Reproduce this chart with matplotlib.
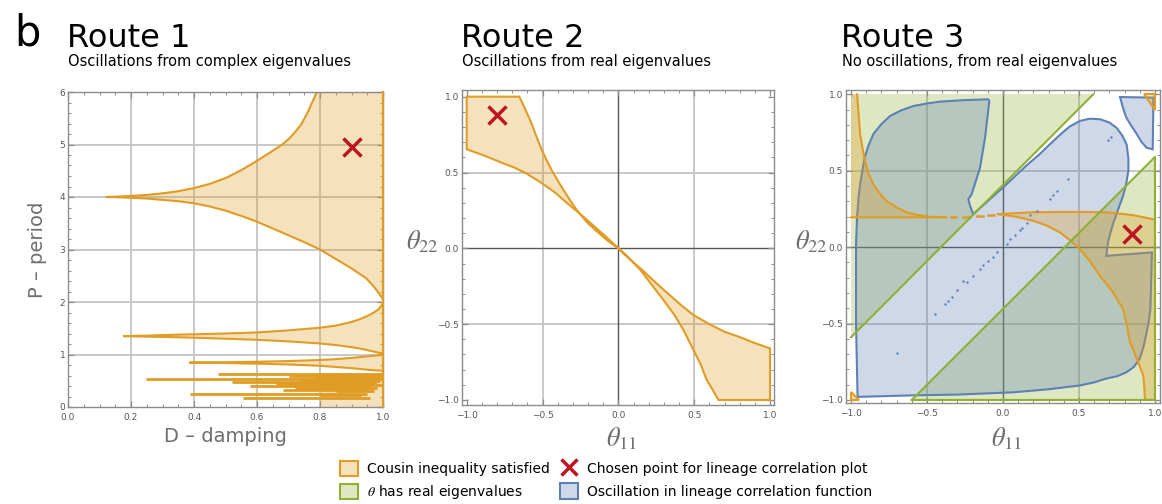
#!/usr/bin/env python3


import matplotlib
matplotlib.use("Agg")
import matplotlib.pyplot as plt
from matplotlib.colors import to_rgba
from matplotlib.lines import Line2D
from matplotlib.patches import Patch
from matplotlib.ticker import MultipleLocator, FuncFormatter


ORANGE = '#e09c24'
GREEN = '#8fb032'
BLUE = '#5e81b5'
RED = '#bc1420'
GRID = '#c4c4c4'
FRAME = '#8c8c8c'
LABEL = '#6e6e6e'

# Route 1 -- Cousin inequality region in (D, P)
lobe1_D = [0.12, 0.15, 0.2, 0.25, 0.3, 0.35, 0.4, 0.45, 0.5, 0.55, 0.6,
           0.65, 0.68, 0.7, 0.72, 0.74, 0.76, 0.775, 0.79, 1.0,
           1.0, 0.99, 0.97, 0.947, 0.9, 0.85, 0.8, 0.75, 0.7, 0.65, 0.6,
           0.55, 0.5, 0.45, 0.4, 0.35, 0.3, 0.25, 0.2, 0.15]
lobe1_P = [4.0, 4.005, 4.02, 4.04, 4.07, 4.11, 4.17, 4.25, 4.36, 4.51, 4.69,
           4.88, 5.0, 5.1, 5.23, 5.38, 5.6, 5.8, 6.0, 6.0,
           2.05, 2.14, 2.30, 2.45, 2.64, 2.82, 3.0, 3.14, 3.27, 3.40, 3.53,
           3.64, 3.74, 3.82, 3.88, 3.92, 3.945, 3.97, 3.985, 3.997]
lobe2_D = [0.175, 0.25, 0.3, 0.4, 0.5, 0.6, 0.7, 0.8, 0.85, 0.9, 0.93,
           0.96, 0.986, 0.995, 1.0,
           1.0, 0.986, 0.96, 0.93, 0.9, 0.85, 0.8, 0.7, 0.6, 0.5, 0.4,
           0.3, 0.25]
lobe2_P = [1.35, 1.36, 1.37, 1.385, 1.40, 1.42, 1.46, 1.51, 1.55, 1.62, 1.68,
           1.76, 1.86, 1.93, 2.0,
           1.02, 1.035, 1.07, 1.11, 1.14, 1.18, 1.21, 1.25, 1.28, 1.30, 1.32,
           1.335, 1.34]
lobe3_D = [0.385, 0.5, 0.6, 0.7, 0.8, 0.85, 0.9, 0.96, 0.985, 1.0,
           1.0, 0.985, 0.96, 0.9, 0.8, 0.7, 0.6, 0.5]
lobe3_P = [0.845, 0.853, 0.862, 0.875, 0.895, 0.912, 0.935, 0.97, 0.985, 1.0,
           0.69, 0.695, 0.705, 0.74, 0.785, 0.81, 0.825, 0.837]
strip_D = [0.8, 1.0, 1.0, 0.8]
strip_P = [0.0, 0.0, 0.64, 0.64]
spike_P = [0.635, 0.60, 0.565, 0.527, 0.50, 0.47, 0.44, 0.42,
           0.394, 0.36, 0.33, 0.30, 0.254, 0.22, 0.17]
spike_D0 = [0.476, 0.70, 0.78, 0.247, 0.74, 0.522, 0.66, 0.80,
            0.577, 0.72, 0.683, 0.85, 0.386, 0.80, 0.556]
spike_D1 = [1.0, 1.0, 1.0, 1.0, 0.99, 0.98, 0.97, 1.0,
            0.96, 0.98, 0.95, 0.97, 0.95, 0.93, 0.96]
chosen1 = (0.9, 4.95)

# Route 2 -- Cousin inequality region in (theta11, theta22)
r2_ul_x = [-1.0, -0.653, -0.62, -0.582, -0.545, -0.505, -0.47, -0.44,
           -0.39, -0.34, -0.28, -0.21, -0.14, -0.07, 0.0,
           -0.08, -0.165, -0.25, -0.34, -0.42, -0.505, -0.6, -0.68,
           -0.758, -0.88, -1.0]
r2_ul_y = [1.0, 1.0, 0.93, 0.846, 0.75, 0.648, 0.575, 0.516,
           0.43, 0.35, 0.26, 0.175, 0.11, 0.05, 0.0,
           0.075, 0.15, 0.225, 0.30, 0.37, 0.43, 0.49, 0.53,
           0.56, 0.61, 0.653]
r2_lr_x = [1.0, 0.66, 0.62, 0.582, 0.545, 0.495, 0.46, 0.43, 0.37, 0.297,
           0.22, 0.143, 0.07, 0.0,
           0.08, 0.165, 0.25, 0.34, 0.42, 0.495, 0.6, 0.7, 0.8, 0.9, 1.0]
r2_lr_y = [-1.0, -1.0, -0.93, -0.868, -0.77, -0.67, -0.60, -0.54, -0.44, -0.34,
           -0.24, -0.14, -0.065, 0.0,
           -0.075, -0.15, -0.23, -0.31, -0.38, -0.44, -0.50, -0.55, -0.585,
           -0.625, -0.66]
chosen2 = (-0.8, 0.88)

# Route 3 -- real eigenvalues, oscillation and Cousin regions
green_ul_x = [-1.0, -1.0, 0.594]
green_ul_y = [-0.59, 1.0, 1.0]
green_lr_x = [-0.6, 1.0, 1.0]
green_lr_y = [-1.0, -1.0, 0.59]
blob_x = [-0.957, -0.967, -0.967, -0.96, -0.95, -0.94, -0.925, -0.91,
          -0.885, -0.853, -0.80, -0.743, -0.67, -0.59, -0.5, -0.414, -0.25,
          -0.097, -0.09, -0.118, -0.151, -0.206, -0.228, -0.217, -0.196,
          0.0, 0.15, 0.243, 0.3, 0.375, 0.44, 0.507, 0.57, 0.638, 0.70,
          0.748, 0.785, 0.814, 0.825, 0.825, 0.81, 0.79, 0.755, 0.72, 0.69,
          0.68, 0.98, 0.97, 0.96, 0.945, 0.925, 0.90, 0.86, 0.81, 0.75, 0.68,
          0.6, 0.507, 0.3, 0.068, -0.3, -0.59]
blob_y = [-0.98, -0.5, 0.02, 0.2, 0.33, 0.41, 0.5, 0.586,
          0.665, 0.74, 0.805, 0.858, 0.895, 0.923, 0.94, 0.952, 0.962,
          0.967, 0.955, 0.717, 0.52, 0.346, 0.314, 0.27, 0.216,
          0.39, 0.53, 0.61, 0.665, 0.735, 0.79, 0.826, 0.84, 0.837, 0.815,
          0.78, 0.73, 0.67, 0.58, 0.5, 0.41, 0.335, 0.24, 0.14, 0.03,
          -0.057, -0.035, -0.4, -0.48, -0.558, -0.65, -0.73, -0.785, -0.82,
          -0.845, -0.86, -0.885, -0.905, -0.93, -0.95, -0.965, -0.97]
corner_x = [0.77, 0.99, 0.985, 0.945, 0.91, 0.88, 0.84, 0.81, 0.79]
corner_y = [0.982, 0.978, 0.64, 0.65, 0.69, 0.74, 0.80, 0.85, 0.91]
dots_x = [-0.70, -0.447, -0.38, -0.36, -0.338, -0.30, -0.26, -0.24, -0.20,
          -0.151, -0.13, -0.10, -0.064, -0.04, 0.024, 0.046, 0.08, 0.112,
          0.123, 0.156, 0.178, 0.222, 0.31, 0.33, 0.353, 0.43, 0.69, 0.71]
dots_y = [-0.69, -0.436, -0.37, -0.35, -0.327, -0.28, -0.22, -0.23, -0.19,
          -0.144, -0.12, -0.09, -0.065, -0.035, 0.022, 0.052, 0.08, 0.109,
          0.128, 0.161, 0.207, 0.237, 0.314, 0.338, 0.368, 0.447, 0.70, 0.72]
c_ul_x = [-1.0, -0.96, -0.95, -0.94, -0.925, -0.908, -0.885, -0.853, -0.81,
          -0.765, -0.70, -0.633, -0.56, -0.48, -0.37, -1.0]
c_ul_y = [1.0, 1.0, 0.87, 0.74, 0.65, 0.564, 0.48, 0.41, 0.35,
          0.30, 0.26, 0.227, 0.21, 0.198, 0.195, 0.195]
c_dash_x0 = [-0.34, -0.26, -0.17, -0.10]
c_dash_x1 = [-0.31, -0.22, -0.13, -0.06]
c_dash_y = [0.198, 0.200, 0.205, 0.210]
c_lr_x = [-0.04, 0.2, 0.375, 0.55, 0.70, 0.85, 1.0, 1.0, 0.934, 0.93,
          0.923, 0.88, 0.835, 0.815, 0.79, 0.72, 0.638, 0.57, 0.507,
          0.44, 0.375, 0.29, 0.2, 0.08]
c_lr_y = [0.216, 0.228, 0.23, 0.23, 0.227, 0.21, 0.18, -1.0, -1.0, -0.92,
          -0.84, -0.73, -0.62, -0.51, -0.405, -0.29, -0.188, -0.09, -0.013,
          0.045, 0.096, 0.14, 0.172, 0.2]
c_tr_x = [0.93, 1.0, 1.0]
c_tr_y = [1.0, 1.0, 0.9]
c_bl_x = [-1.0, -1.0, -0.95]
c_bl_y = [-0.95, -1.0, -1.0]
chosen3 = (0.847, 0.085)


def fmt(v, pos):
    return ('%.1f' % v).replace('-', '\u2212')


def style(ax, major, minor):
    for s in ax.spines.values():
        s.set_color(FRAME)
        s.set_linewidth(1.0)
    ax.xaxis.set_major_locator(MultipleLocator(major[0]))
    ax.yaxis.set_major_locator(MultipleLocator(major[1]))
    ax.xaxis.set_minor_locator(MultipleLocator(minor[0]))
    ax.yaxis.set_minor_locator(MultipleLocator(minor[1]))
    ax.tick_params(which='both', direction='in', top=True, right=True,
                   color=FRAME, labelcolor='#555555', labelsize=6.5, pad=2)
    ax.tick_params(axis='x', which='both', pad=4)
    ax.tick_params(which='major', length=4, width=0.9)
    ax.tick_params(which='minor', length=2, width=0.7)


def fill(ax, x, y, color, edge=True):
    ax.fill(x, y, facecolor=to_rgba(color, 0.3),
            edgecolor=color if edge else 'none', lw=1.5, zorder=2)


def route1(ax):
    for v in [0.2, 0.4, 0.6, 0.8]:
        ax.axvline(v, color=GRID, lw=1.3, zorder=0)
    for v in [1, 2, 3, 4, 5]:
        ax.axhline(v, color=GRID, lw=1.3, zorder=0)
    fill(ax, strip_D, strip_P, ORANGE, edge=False)
    fill(ax, lobe1_D, lobe1_P, ORANGE)
    fill(ax, lobe2_D, lobe2_P, ORANGE)
    fill(ax, lobe3_D, lobe3_P, ORANGE)
    for p, d0, d1 in zip(spike_P, spike_D0, spike_D1):
        ax.plot([d0, d1], [p, p], color=ORANGE, lw=2.0,
                solid_capstyle='butt', zorder=3)
    ax.plot([1, 1], [0, 6], color=ORANGE, lw=1.5, zorder=3, clip_on=False)
    ax.plot(*chosen1, marker='x', color=RED, ms=13, mew=2.5, zorder=5)
    ax.set_xlim(0, 1)
    ax.set_ylim(0, 6)
    style(ax, (0.2, 1), (0.05, 0.2))
    ax.xaxis.set_major_formatter(FuncFormatter(fmt))
    ax.yaxis.set_major_formatter(FuncFormatter(lambda v, p: '%d' % v))
    ax.set_xlabel('D \u2013 damping', fontsize=14, color=LABEL, labelpad=4)
    ax.set_ylabel('P \u2013 period', fontsize=14, color=LABEL, labelpad=9)


def theta_axes(ax, xlim, ylim):
    for v in [-0.5, 0.5]:
        ax.axvline(v, color=GRID, lw=1.3, zorder=0)
        ax.axhline(v, color=GRID, lw=1.3, zorder=0)
    ax.axvline(0, color='#555555', lw=1.0, zorder=0.5)
    ax.axhline(0, color='#555555', lw=1.0, zorder=0.5)
    ax.set_xlim(*xlim)
    ax.set_ylim(*ylim)
    style(ax, (0.5, 0.5), (0.1, 0.1))
    ax.xaxis.set_major_formatter(FuncFormatter(fmt))
    ax.yaxis.set_major_formatter(FuncFormatter(fmt))


def route2(ax):
    fill(ax, r2_ul_x, r2_ul_y, ORANGE)
    fill(ax, r2_lr_x, r2_lr_y, ORANGE)
    ax.plot(*chosen2, marker='x', color=RED, ms=13, mew=2.5, zorder=5)
    theta_axes(ax, (-1.031, 1.026), (-1.033, 1.044))


def route3(ax):
    ax.fill(green_ul_x, green_ul_y, facecolor=to_rgba(GREEN, 0.3),
            edgecolor='none', zorder=1)
    ax.fill(green_lr_x, green_lr_y, facecolor=to_rgba(GREEN, 0.3),
            edgecolor='none', zorder=1)
    ax.plot(green_ul_x[:1] + green_ul_x[2:], green_ul_y[:1] + green_ul_y[2:],
            color=GREEN, lw=1.5, zorder=4)
    ax.plot(green_lr_x + green_lr_x[:1], green_lr_y + green_lr_y[:1],
            color=GREEN, lw=1.5, zorder=4)
    fill(ax, blob_x, blob_y, BLUE)
    fill(ax, corner_x, corner_y, BLUE)
    ax.scatter(dots_x, dots_y, s=3, color=BLUE, lw=0, zorder=3)
    fill(ax, c_ul_x, c_ul_y, ORANGE, edge=False)
    ax.plot(c_ul_x[1:], c_ul_y[1:], color=ORANGE, lw=1.5, zorder=3)
    for x0, x1, y in zip(c_dash_x0, c_dash_x1, c_dash_y):
        ax.plot([x0, x1], [y, y], color=ORANGE, lw=1.8, zorder=3)
    fill(ax, c_lr_x, c_lr_y, ORANGE)
    fill(ax, c_tr_x, c_tr_y, ORANGE)
    fill(ax, c_bl_x, c_bl_y, ORANGE)
    ax.plot(*chosen3, marker='x', color=RED, ms=13, mew=2.5, zorder=5)
    theta_axes(ax, (-1.033, 1.033), (-1.02, 1.028))


if __name__ == "__main__":
    plt.rcParams['mathtext.fontset'] = 'stix'
    W, H = 1162.0, 504.0
    fig = plt.figure(figsize=(W / 100, H / 100), dpi=100)
    ax1 = fig.add_axes([68 / W, 1 - 407 / H, 315 / W, 315 / H])
    ax2 = fig.add_axes([462 / W, 1 - 405 / H, 312 / W, 315 / H])
    ax3 = fig.add_axes([846 / W, 1 - 403 / H, 314 / W, 313 / H])
    route1(ax1)
    route2(ax2)
    route3(ax3)

    fig.text(14 / W, 1 - 45 / H, 'b', fontsize=30, va='baseline')
    titles = [('Route 1', 'Oscillations from complex eigenvalues', 67),
              ('Route 2', 'Oscillations from real eigenvalues', 461),
              ('Route 3', 'No oscillations, from real eigenvalues', 841)]
    for t, sub, x in titles:
        fig.text(x / W, 1 - 47 / H, t, fontsize=23, va='baseline')
        fig.text((x + 1) / W, 1 - 66 / H, sub, fontsize=10.5, va='baseline')

    for xr, xc in [(439, 622), (828, 1007)]:
        fig.text(xr / W, 1 - 249 / H, r'$\theta_{22}$', fontsize=19,
                 color=LABEL, ha='right', va='baseline')
        fig.text(xc / W, 1 - 446 / H, r'$\theta_{11}$', fontsize=19,
                 color=LABEL, ha='center', va='baseline')

    handles = [Patch(facecolor=to_rgba(ORANGE, 0.3), edgecolor=ORANGE, lw=1.5),
               Patch(facecolor=to_rgba(GREEN, 0.3), edgecolor=GREEN, lw=1.5),
               Line2D([], [], ls='none', marker='x', color=RED, ms=12, mew=2.5),
               Patch(facecolor=to_rgba(BLUE, 0.3), edgecolor=BLUE, lw=1.5)]
    labels = ['Cousin inequality satisfied', r'$\theta$ has real eigenvalues',
              'Chosen point for lineage correlation plot',
              'Oscillation in lineage correlation function']
    fig.legend(handles, labels, ncol=2, loc='center left',
               bbox_to_anchor=(340 / W, 1 - 481 / H), frameon=False,
               fontsize=10, handlelength=1.3, handleheight=1.35,
               handletextpad=0.65, labelspacing=0.5, columnspacing=0.7,
               borderpad=0, borderaxespad=0)

    fig.savefig('out.png', dpi=100)
